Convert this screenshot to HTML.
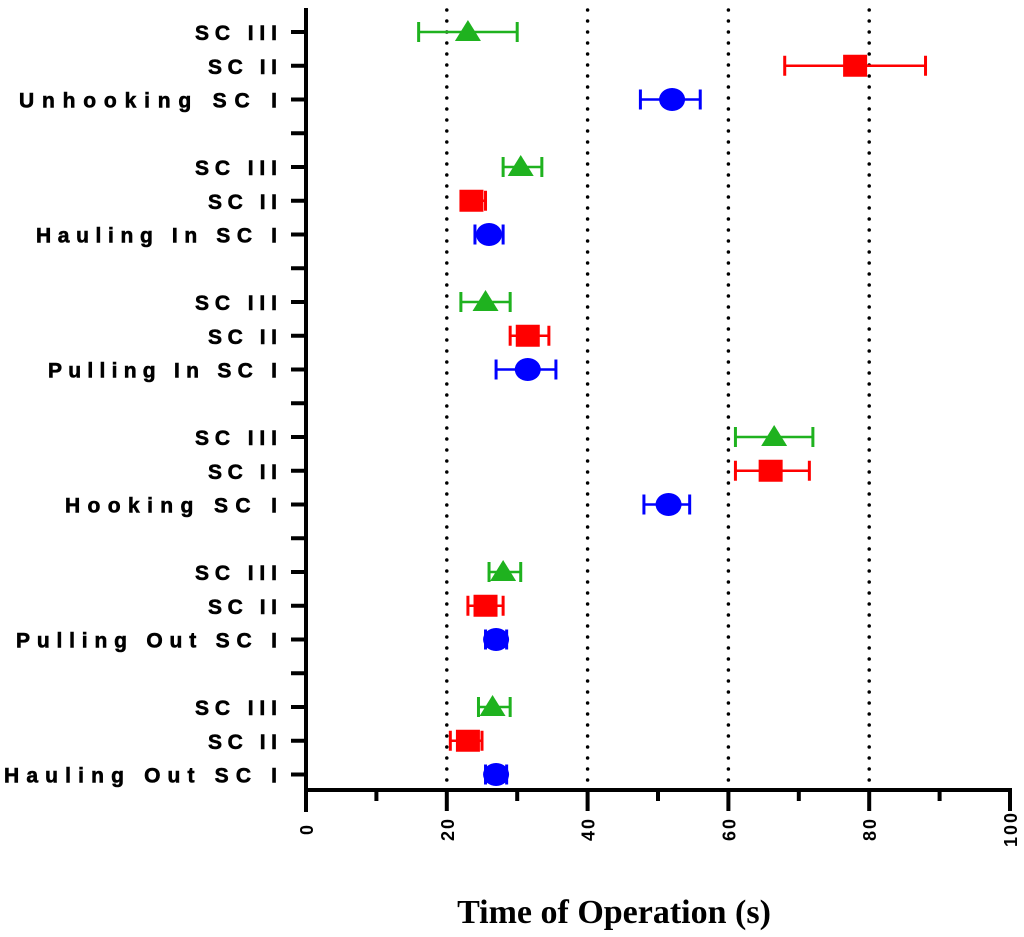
<!DOCTYPE html>
<html><head><meta charset="utf-8"><style>
body{margin:0;background:#fff;}
svg{display:block;}
</style></head><body>
<svg id="chart" width="1024" height="937" viewBox="0 0 1024 937" xmlns="http://www.w3.org/2000/svg">
</svg>
<script>
const groups = ["Unhooking","Hauling In","Pulling In","Hooking","Pulling Out","Hauling Out"];
const series = ["SC III","SC II","SC I"];
const meanIII = [23,30.5,25.5,66.5,28,26.5];
const loIII = [16,28,22,61,26,24.5];
const hiIII = [30,33.5,29,72,30.5,29];
const meanII = [78,23.5,31.5,66,25.5,23];
const loII = [68,22.5,29,61,23,20.5];
const hiII = [88,25.5,34.5,71.5,28,25];
const meanI = [52,26,31.5,51.5,27,27];
const loI = [47.5,24,27,48,25.5,25.5];
const hiI = [56,28,35.5,54.5,28.5,28.5];
const xTicks = [0,20,40,60,80,100];
const xMinor = [10,30,50,70,90];

const labelLen={"SC III":82,"SC II":69,"Unhooking SC I":258,"Hauling In SC I":241,"Pulling In SC I":229,"Hooking SC I":212,"Pulling Out SC I":261,"Hauling Out SC I":273};
const NS="http://www.w3.org/2000/svg";
const svg=document.getElementById('chart');
function mk(t,a,p){const e=document.createElementNS(NS,t);for(const k in a)e.setAttribute(k,a[k]);(p||svg).appendChild(e);return e;}
const x0=306,x1=1010,axisY=790;
const xs=v=>x0+(v-0)/(100-0)*(x1-x0);
const rowY=i=>32+i*33.75;
xTicks.forEach(t=>{if(t>0&&t<100){const l=mk('line',{x1:xs(t),x2:xs(t),y1:10,y2:axisY,stroke:'#000','stroke-width':3.5,'stroke-dasharray':'0 11','stroke-linecap':'round'});

}});
const ya=mk('line',{x1:x0,x2:x0,y1:8,y2:812,stroke:'#000','stroke-width':4});

const xa=mk('line',{x1:x0-2,x2:x1+2,y1:axisY,y2:axisY,stroke:'#000','stroke-width':4});

xTicks.forEach(t=>{const l=mk('line',{x1:xs(t),x2:xs(t),y1:axisY,y2:811,stroke:'#000','stroke-width':4});

const tx=mk('text',{x:0,y:0,transform:`translate(${xs(t)+7},829) rotate(-90)`,'text-anchor':'middle','font-family':'Liberation Sans, sans-serif','font-weight':'bold','font-size':18,'letter-spacing':'2'});
tx.textContent=t;
});
xMinor.forEach(t=>{const l=mk('line',{x1:xs(t),x2:xs(t),y1:axisY,y2:801,stroke:'#000','stroke-width':4});
});
for(let g=0;g<groups.length;g++){
 for(let s=0;s<3;s++){
  const y=rowY(g*4+s);
  const l=mk('line',{x1:291,x2:x0,y1:y,y2:y,stroke:'#000','stroke-width':4});
  
  const label=s==2?groups[g]+' SC I':series[s];
  const len=labelLen[label];
  const tx=mk('text',{x:277-len,y:y+8,'font-family':'Liberation Sans, sans-serif','font-weight':'bold','font-size':21,'stroke':'#000','stroke-width':0.6,textLength:len,lengthAdjust:'spacing'});
  tx.textContent=label;
  
 }
 if(g<groups.length-1){const y=rowY(g*4+3);
  const l=mk('line',{x1:291,x2:x0,y1:y,y2:y,stroke:'#000','stroke-width':4});
  }
}
const sets=[{m:meanIII,lo:loIII,hi:hiIII,c:'#1fb21f',shape:'tri',n:'sc-iii'},{m:meanII,lo:loII,hi:hiII,c:'#ff0000',shape:'sq',n:'sc-ii'},{m:meanI,lo:loI,hi:hiI,c:'#0000ff',shape:'circ',n:'sc-i'}];
sets.forEach((S,s)=>{
 for(let g=0;g<groups.length;g++){
  const y=rowY(g*4+s);const c=S.c;
  const gr=mk('g',{});
  
  
  mk('line',{x1:xs(S.lo[g]),x2:xs(S.hi[g]),y1:y,y2:y,stroke:c,'stroke-width':2.5},gr);
  mk('line',{x1:xs(S.lo[g]),x2:xs(S.lo[g]),y1:y-10,y2:y+10,stroke:c,'stroke-width':3},gr);
  mk('line',{x1:xs(S.hi[g]),x2:xs(S.hi[g]),y1:y-10,y2:y+10,stroke:c,'stroke-width':3},gr);
  const cx=xs(S.m[g]);
  if(S.shape=='tri')mk('polygon',{points:`${cx},${y-12} ${cx+13},${y+9} ${cx-13},${y+9}`,fill:c},gr);
  else if(S.shape=='sq')mk('rect',{x:cx-12,y:y-11,width:24,height:22,fill:c},gr);
  else mk('ellipse',{cx:cx,cy:y,rx:13,ry:11.5,fill:c},gr);
 }
});
const t=mk('text',{x:614,y:923,'text-anchor':'middle','font-family':'Liberation Serif, serif','font-weight':'bold','font-size':34});
t.textContent='Time of Operation (s)';

</script>
</body></html>
